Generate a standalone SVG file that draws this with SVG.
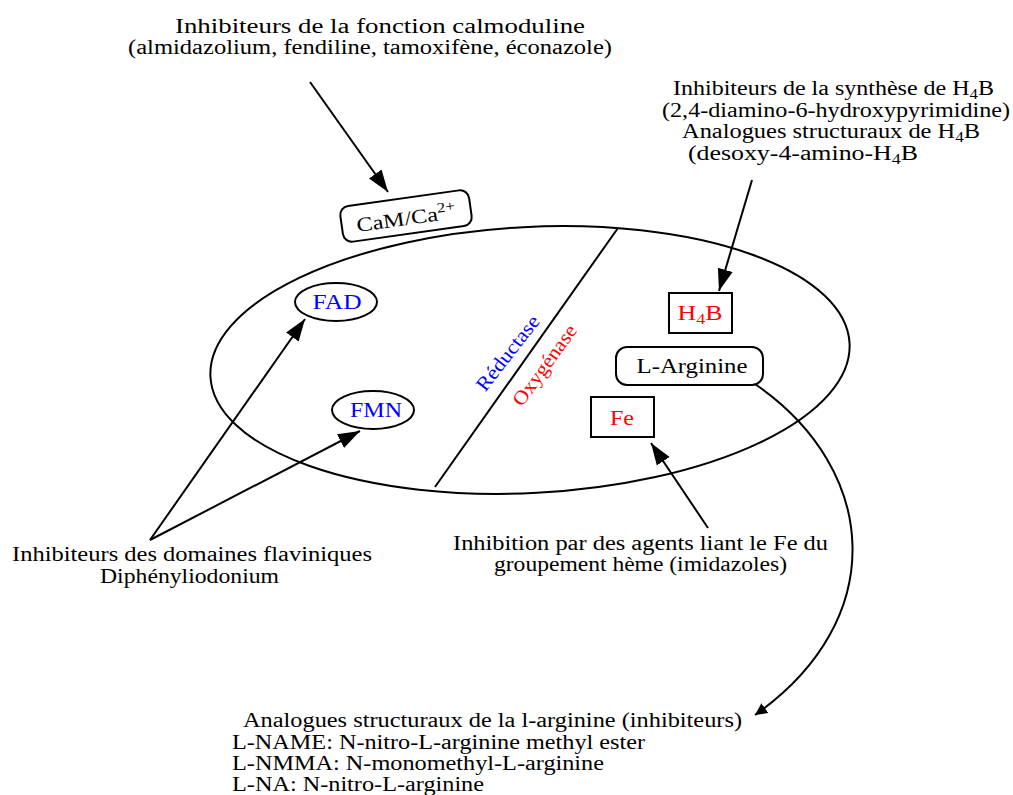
<svg xmlns="http://www.w3.org/2000/svg" width="1013" height="795" viewBox="0 0 1013 795">
<defs>
<style>
text{font-family:"Liberation Serif","Times New Roman",serif;font-size:20px;fill:#000}
.c{text-anchor:middle}
.blue{fill:#0000ff}
.red{fill:#ff0000}
.ln{fill:none;stroke:#000;stroke-width:2}
.box{fill:#fff;stroke:#000;stroke-width:2}
.sub{font-size:14px}
</style>
<marker id="ah" viewBox="0 0 10 10" refX="10" refY="5" markerWidth="12" markerHeight="12" markerUnits="userSpaceOnUse" orient="auto">
<path d="M0,0 L10,5 L0,10 Z" fill="#000"/>
</marker>
<marker id="ahb" viewBox="0 0 10 10" refX="10" refY="5" markerWidth="22" markerHeight="22" markerUnits="userSpaceOnUse" orient="auto">
<path d="M0,1.5 L10,5 L0,8.5 Z" fill="#000"/>
</marker>
</defs>
<rect width="1013" height="795" fill="#fff"/>
<g id="enzyme">
<ellipse cx="530" cy="360" rx="320" ry="133" transform="rotate(-3 530 360)" class="ln"/>
<line x1="435" y1="487" x2="618" y2="228" class="ln"/>
<text class="c blue" transform="translate(513 357) rotate(-52)" textLength="90" lengthAdjust="spacingAndGlyphs">Réductase</text>
<text class="c red" transform="translate(550 369) rotate(-54)" textLength="95" lengthAdjust="spacingAndGlyphs">Oxygénase</text>
</g>
<g id="connectors">
<line x1="310" y1="82" x2="388" y2="192" class="ln" marker-end="url(#ahb)"/>
<line x1="752" y1="180" x2="719" y2="291" class="ln" marker-end="url(#ahb)"/>
<line x1="150" y1="540" x2="305" y2="319" class="ln" marker-end="url(#ahb)"/>
<line x1="150" y1="540" x2="360" y2="431" class="ln" marker-end="url(#ahb)"/>
<line x1="708" y1="528" x2="651" y2="443" class="ln" marker-end="url(#ahb)"/>
<path d="M755,384 C880,470 890,620 755,715" class="ln" marker-end="url(#ah)"/>
</g>
<g id="cam">
<rect x="341" y="198" width="130" height="36" rx="9" class="box" transform="rotate(-8 406 216)"/>
<text class="c" transform="translate(407 225) rotate(-8)" textLength="100" lengthAdjust="spacingAndGlyphs">CaM/Ca<tspan dy="-8" class="sub">2+</tspan></text>
</g>
<g id="fad">
<ellipse cx="336" cy="302" rx="41" ry="19" class="box"/>
<text class="c blue" x="337" y="309" textLength="49" lengthAdjust="spacingAndGlyphs">FAD</text>
</g>
<g id="fmn">
<ellipse cx="373" cy="410" rx="41" ry="19" class="box"/>
<text class="c blue" x="376" y="417" textLength="52" lengthAdjust="spacingAndGlyphs">FMN</text>
</g>
<g id="h4b">
<rect x="669" y="293" width="63" height="40" class="box"/>
<text class="c red" x="700" y="320" textLength="45" lengthAdjust="spacingAndGlyphs">H<tspan class="sub" dy="4">4</tspan><tspan dy="-4">B</tspan></text>
</g>
<g id="larg">
<rect x="616" y="347" width="147" height="38" rx="11" class="box"/>
<text class="c" x="692" y="373" textLength="111" lengthAdjust="spacingAndGlyphs">L-Arginine</text>
</g>
<g id="fe">
<rect x="591" y="397" width="63" height="40" class="box"/>
<text class="c red" x="622" y="425" textLength="24" lengthAdjust="spacingAndGlyphs">Fe</text>
</g>
<g id="label-cam">
<text x="175" y="33" textLength="410" lengthAdjust="spacingAndGlyphs">Inhibiteurs de la fonction calmoduline</text>
<text x="128" y="54" textLength="484" lengthAdjust="spacingAndGlyphs">(almidazolium, fendiline, tamoxifène, éconazole)</text>
</g>
<g id="label-h4b">
<text x="673" y="95" textLength="321" lengthAdjust="spacingAndGlyphs">Inhibiteurs de la synthèse de H<tspan class="sub" dy="4">4</tspan><tspan dy="-4">B</tspan></text>
<text x="662" y="117" textLength="348" lengthAdjust="spacingAndGlyphs">(2,4-diamino-6-hydroxypyrimidine)</text>
<text x="682" y="138" textLength="298" lengthAdjust="spacingAndGlyphs">Analogues structuraux de H<tspan class="sub" dy="4">4</tspan><tspan dy="-4">B</tspan></text>
<text x="688" y="160" textLength="230" lengthAdjust="spacingAndGlyphs">(desoxy-4-amino-H<tspan class="sub" dy="4">4</tspan><tspan dy="-4">B</tspan></text>
</g>
<g id="label-flav">
<text x="12" y="561" textLength="360" lengthAdjust="spacingAndGlyphs">Inhibiteurs des domaines flaviniques</text>
<text x="100" y="583" textLength="179" lengthAdjust="spacingAndGlyphs">Diphényliodonium</text>
</g>
<g id="label-fe">
<text x="453" y="550" textLength="375" lengthAdjust="spacingAndGlyphs">Inhibition par des agents liant le Fe du</text>
<text x="494" y="571" textLength="293" lengthAdjust="spacingAndGlyphs">groupement hème (imidazoles)</text>
</g>
<g id="label-arg">
<text x="243" y="727" textLength="499" lengthAdjust="spacingAndGlyphs">Analogues structuraux de la l-arginine (inhibiteurs)</text>
<text x="232" y="749" textLength="413" lengthAdjust="spacingAndGlyphs">L-NAME: N-nitro-L-arginine methyl ester</text>
<text x="232" y="770" textLength="372" lengthAdjust="spacingAndGlyphs">L-NMMA: N-monomethyl-L-arginine</text>
<text x="232" y="791" textLength="252" lengthAdjust="spacingAndGlyphs">L-NA: N-nitro-L-arginine</text>
</g>
</svg>
